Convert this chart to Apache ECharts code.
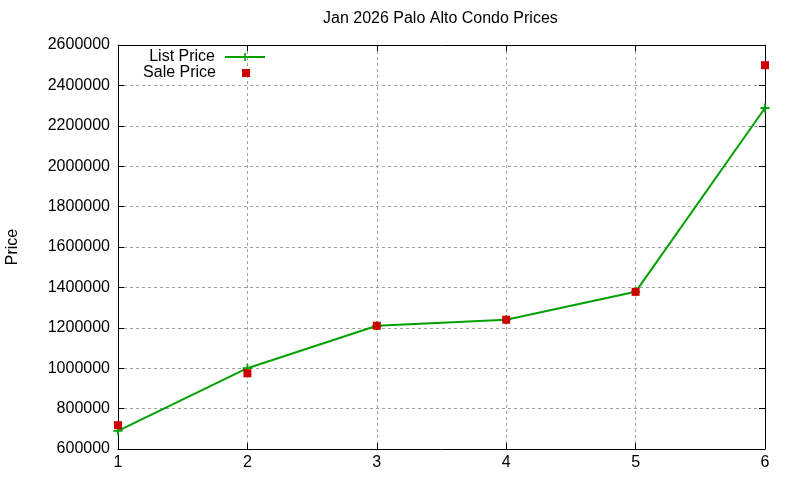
<!DOCTYPE html>
<html>
<head>
<meta charset="utf-8">
<script src="https://cdn.jsdelivr.net/npm/echarts@6/dist/echarts.min.js"></script>
<style>
  html, body { margin: 0; padding: 0; background: #fff; }
  #chart { width: 800px; height: 480px; }
</style>
</head>
<body>
<div id="chart"></div>
<script>
var xValues = [1, 2, 3, 4, 5, 6];
var listPrice = [690000, 1000000, 1210000, 1240000, 1378000, 2288000];
var salePrice = [718000, 975000, 1210000, 1240000, 1378000, 2500000];

var FONT = '"Liberation Sans", Arial, sans-serif';
var plusIcon = 'path://M4,0H6V4H10V6H6V10H4V6H0V4H4Z';

function pairs(values) {
  return xValues.map(function (x, i) { return [x, values[i]]; });
}

var gridLine = { show: true, lineStyle: { color: '#a0a0a0', type: [3, 3], width: 1 } };
var boxLine = { show: true, lineStyle: { color: '#000', width: 1 } };
var tick = { inside: true, length: 6, lineStyle: { color: '#000' } };

var myChart = echarts.init(document.getElementById('chart'));
myChart.setOption({
  animation: false,
  backgroundColor: '#fff',
  textStyle: { fontFamily: FONT },
  title: {
    text: 'Jan 2026 Palo Alto Condo Prices',
    left: 323,
    top: 11,
    padding: 0,
    textStyle: { fontFamily: FONT, fontSize: 16, fontWeight: 'normal', color: '#000' }
  },
  legend: [{
    orient: 'vertical',
    right: 534,
    top: 49,
    align: 'right',
    itemWidth: 40,
    itemHeight: 10,
    padding: 0,
    textStyle: { fontFamily: FONT, fontSize: 16, color: '#000', padding: [0, 5, 0, 0] },
    data: ['List Price']
  }, {
    orient: 'vertical',
    right: 550,
    top: 65,
    align: 'right',
    itemWidth: 8,
    itemHeight: 8,
    padding: 0,
    textStyle: { fontFamily: FONT, fontSize: 16, color: '#000', padding: [0, 21, 0, 0] },
    data: [{ name: 'Sale Price', icon: 'rect' }]
  }],
  grid: { left: 118, right: 35, top: 45, bottom: 31, outerBoundsMode: 'none' },
  xAxis: [{
    type: 'value',
    min: 1,
    max: 6,
    interval: 1,
    axisLine: boxLine,
    axisTick: tick,
    axisLabel: { fontFamily: FONT, fontSize: 16, color: '#000', margin: 6 },
    splitLine: gridLine
  }, {
    type: 'value',
    position: 'top',
    min: 1,
    max: 6,
    interval: 1,
    axisLine: boxLine,
    axisTick: tick,
    axisLabel: { show: false },
    splitLine: { show: false }
  }],
  yAxis: [{
    type: 'value',
    min: 600000,
    max: 2600000,
    interval: 200000,
    name: 'Price',
    nameLocation: 'middle',
    nameGap: 97,
    nameTextStyle: { fontFamily: FONT, fontSize: 16, color: '#000' },
    axisLine: boxLine,
    axisTick: tick,
    axisLabel: {
      fontFamily: FONT, fontSize: 16, color: '#000', margin: 8,
      formatter: function (v) { return String(v); }
    },
    splitLine: gridLine
  }, {
    type: 'value',
    position: 'right',
    min: 600000,
    max: 2600000,
    interval: 200000,
    axisLine: boxLine,
    axisTick: tick,
    axisLabel: { show: false },
    splitLine: { show: false }
  }],
  series: [{
    name: 'List Price',
    type: 'line',
    data: pairs(listPrice),
    symbol: plusIcon,
    symbolSize: 9,
    showAllSymbol: true,
    lineStyle: { color: '#00a000', width: 2 },
    itemStyle: { color: '#00a000' },
    z: 2
  }, {
    name: 'Sale Price',
    type: 'scatter',
    data: pairs(salePrice),
    symbol: 'rect',
    symbolSize: 8,
    itemStyle: { color: '#cc0000', opacity: 1 },
    z: 3
  }]
});
</script>
</body>
</html>
